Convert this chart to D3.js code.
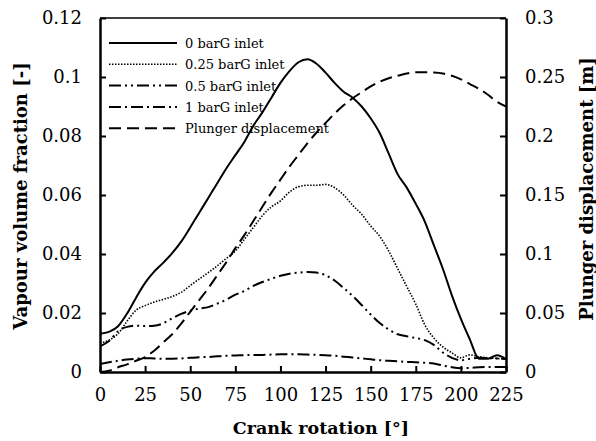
<!DOCTYPE html>
<html>
<head>
<meta charset="utf-8">
<script src="https://cdn.jsdelivr.net/npm/d3@7"></script>
<style>
  body { margin: 0; background: #fff; }
  text { font-family: "DejaVu Serif", serif; fill: #000; }
</style>
</head>
<body>
<script>
  // crank angle (deg) and readings for each series
  var crank = [0, 5, 10, 15, 20, 25, 30, 35, 40, 45, 50, 55, 60, 65, 70, 75, 80, 85, 90, 95,
    100, 105, 110, 115, 120, 125, 130, 135, 140, 145, 150, 155, 160, 165, 170, 175, 180,
    185, 190, 195, 200, 205, 210, 215, 220, 225];

  var bar0 = [0.013, 0.0136, 0.0155, 0.0198, 0.0252, 0.0302, 0.034, 0.037, 0.0403, 0.0442, 0.049,
    0.054, 0.059, 0.064, 0.069, 0.0735, 0.078, 0.0835, 0.088, 0.093, 0.098, 0.102, 0.105,
    0.106, 0.1045, 0.1015, 0.098, 0.095, 0.093, 0.090, 0.086, 0.081, 0.074, 0.067, 0.0625,
    0.057, 0.051, 0.043, 0.035, 0.026, 0.018, 0.011, 0.0045, 0.0045, 0.0057, 0.0044];

  var bar025 = [0.0098, 0.0108, 0.013, 0.0172, 0.021, 0.0225, 0.0237, 0.0246, 0.0256, 0.027,
    0.0293, 0.0315, 0.0337, 0.036, 0.0385, 0.041, 0.045, 0.049, 0.053, 0.056, 0.058, 0.061,
    0.0628, 0.0633, 0.0633, 0.0636, 0.0625, 0.060, 0.0565, 0.0535, 0.0495, 0.046, 0.041,
    0.035, 0.029, 0.023, 0.016, 0.0115, 0.0085, 0.0065, 0.0048, 0.0058, 0.0052, 0.0048,
    0.0046, 0.0044];

  var bar05 = [0.0087, 0.0105, 0.0138, 0.0153, 0.0157, 0.0156, 0.0157, 0.0165, 0.0182, 0.0197,
    0.0208, 0.0215, 0.022, 0.0232, 0.0245, 0.0262, 0.0275, 0.0292, 0.0305, 0.0316, 0.0326,
    0.0333, 0.0337, 0.0339, 0.0337, 0.0328, 0.031, 0.0285, 0.0258, 0.0227, 0.0195, 0.0166,
    0.0144, 0.0128, 0.0121, 0.0115, 0.0108, 0.0092, 0.0066, 0.0048, 0.004, 0.0045, 0.0048,
    0.0047, 0.0046, 0.0044];

  var bar1 = [0.0027, 0.0033, 0.0038, 0.0042, 0.0045, 0.0047, 0.0046, 0.0045, 0.0045, 0.0046,
    0.0048, 0.005, 0.0051, 0.0053, 0.0055, 0.0056, 0.0057, 0.0058, 0.0058, 0.0059, 0.006,
    0.006, 0.006, 0.0059, 0.0058, 0.0057, 0.0055, 0.0052, 0.0049, 0.0046, 0.0043, 0.004,
    0.0038, 0.0036, 0.0034, 0.0033, 0.0031, 0.0029, 0.0022, 0.0016, 0.0013, 0.0014, 0.0016,
    0.0017, 0.0017, 0.0017];

  var plunger = [0, 0.001, 0.004, 0.0065, 0.0095, 0.0127, 0.018, 0.025, 0.032, 0.041, 0.051,
    0.061, 0.071, 0.082, 0.093, 0.105, 0.116, 0.128, 0.140, 0.152, 0.163, 0.174, 0.184,
    0.194, 0.203, 0.211, 0.219, 0.226, 0.232, 0.237, 0.242, 0.246, 0.249, 0.251, 0.253,
    0.254, 0.254, 0.2538, 0.253, 0.251, 0.248, 0.244, 0.240, 0.235, 0.229, 0.225];

  var xTicks = [0, 25, 50, 75, 100, 125, 150, 175, 200, 225];
  var yTicks = [0, 0.02, 0.04, 0.06, 0.08, 0.1, 0.12];
  var y2Ticks = [0, 0.05, 0.1, 0.15, 0.2, 0.25, 0.3];

  var seriesNames = ["0 barG inlet", "0.25 barG inlet", "0.5 barG inlet", "1 barG inlet", "Plunger displacement"];
  var dashes = [null, "1.5,1.5", "12,4,2,4,2,4", "12,4,2,4", "12,6"];

  var margin = { top: 18, right: 90, bottom: 69, left: 100 };
  var width = 596 - margin.left - margin.right,
    height = 441 - margin.top - margin.bottom;

  var x = d3.scaleLinear().domain([0, 225]).range([0, width]);
  var y = d3.scaleLinear().domain([0, 0.12]).range([height, 0]);
  var y2 = d3.scaleLinear().domain([0, 0.3]).range([height, 0]);

  var svg = d3.select("body").append("svg")
    .attr("width", 596)
    .attr("height", 441)
    .append("g")
    .attr("transform", "translate(" + margin.left + "," + margin.top + ")");

  var fmt = function(d) { return d === 0 ? "0" : String(+d.toFixed(2)); };

  // axes, ticks pointing inward
  var gx = svg.append("g")
    .attr("transform", "translate(0," + height + ")")
    .call(d3.axisBottom(x).tickValues(xTicks).tickSizeInner(-6).tickSizeOuter(0).tickPadding(16));
  var gy = svg.append("g")
    .call(d3.axisLeft(y).tickValues(yTicks).tickFormat(fmt).tickSizeInner(-6).tickSizeOuter(0).tickPadding(18));
  var gy2 = svg.append("g")
    .attr("transform", "translate(" + width + ",0)")
    .call(d3.axisRight(y2).tickValues(y2Ticks).tickFormat(fmt).tickSizeInner(-6).tickSizeOuter(0).tickPadding(19));

  [gx, gy, gy2].forEach(function(g) {
    g.selectAll(".domain").attr("stroke", "#000").attr("stroke-width", 2.5);
    g.selectAll(".tick line").attr("stroke", "#000").attr("stroke-width", 2);
    g.selectAll(".tick text").style("font-family", "DejaVu Serif").style("font-size", "18px").attr("fill", "#000");
  });

  // top frame
  svg.append("line")
    .attr("x1", 0).attr("x2", width)
    .attr("y1", 0).attr("y2", 0)
    .attr("stroke", "#000").attr("stroke-width", 1.5);

  var lineL = d3.line()
    .x(function(d, i) { return x(crank[i]); })
    .y(function(d) { return y(d); })
    .curve(d3.curveMonotoneX);
  var lineR = d3.line()
    .x(function(d, i) { return x(crank[i]); })
    .y(function(d) { return y2(d); })
    .curve(d3.curveMonotoneX);

  var allSeries = [bar0, bar025, bar05, bar1];
  allSeries.forEach(function(s, k) {
    svg.append("path")
      .datum(s)
      .attr("d", lineL)
      .attr("fill", "none")
      .attr("stroke", "#000")
      .attr("stroke-width", k == 1 ? 1.6 : 2)
      .attr("stroke-dasharray", dashes[k]);
  });

  svg.append("path")
    .datum(plunger)
    .attr("d", lineR)
    .attr("fill", "none")
    .attr("stroke", "#000")
    .attr("stroke-width", 2)
    .attr("stroke-dasharray", dashes[4]);

  // legend
  var legend = svg.append("g").attr("transform", "translate(9,25)");
  seriesNames.forEach(function(name, i) {
    var row = legend.append("g").attr("transform", "translate(0," + (i * 21.3) + ")");
    row.append("line")
      .attr("x1", 0).attr("x2", 68)
      .attr("y1", 0).attr("y2", 0)
      .attr("stroke", "#000")
      .attr("stroke-width", i == 1 ? 1.6 : 2)
      .attr("stroke-dasharray", dashes[i]);
    row.append("text")
      .attr("x", 76)
      .attr("y", 5)
      .style("font-size", "13px")
      .text(name);
  });

  // axis titles
  svg.append("text")
    .attr("x", width / 2 + 18)
    .attr("y", height + 62)
    .style("text-anchor", "middle")
    .style("font-weight", "bold")
    .style("font-size", "17.5px")
    .text("Crank rotation [°]");

  svg.append("text")
    .attr("transform", "translate(-73," + (height / 2 + 1) + ") rotate(-90)")
    .style("text-anchor", "middle")
    .style("font-weight", "bold")
    .style("font-size", "18px")
    .text("Vapour volume fraction [-]");

  svg.append("text")
    .attr("transform", "translate(" + (width + 87) + "," + (height / 2 - 6) + ") rotate(-90)")
    .style("text-anchor", "middle")
    .style("font-weight", "bold")
    .style("font-size", "18px")
    .text("Plunger displacement [m]");
</script>
</body>
</html>
